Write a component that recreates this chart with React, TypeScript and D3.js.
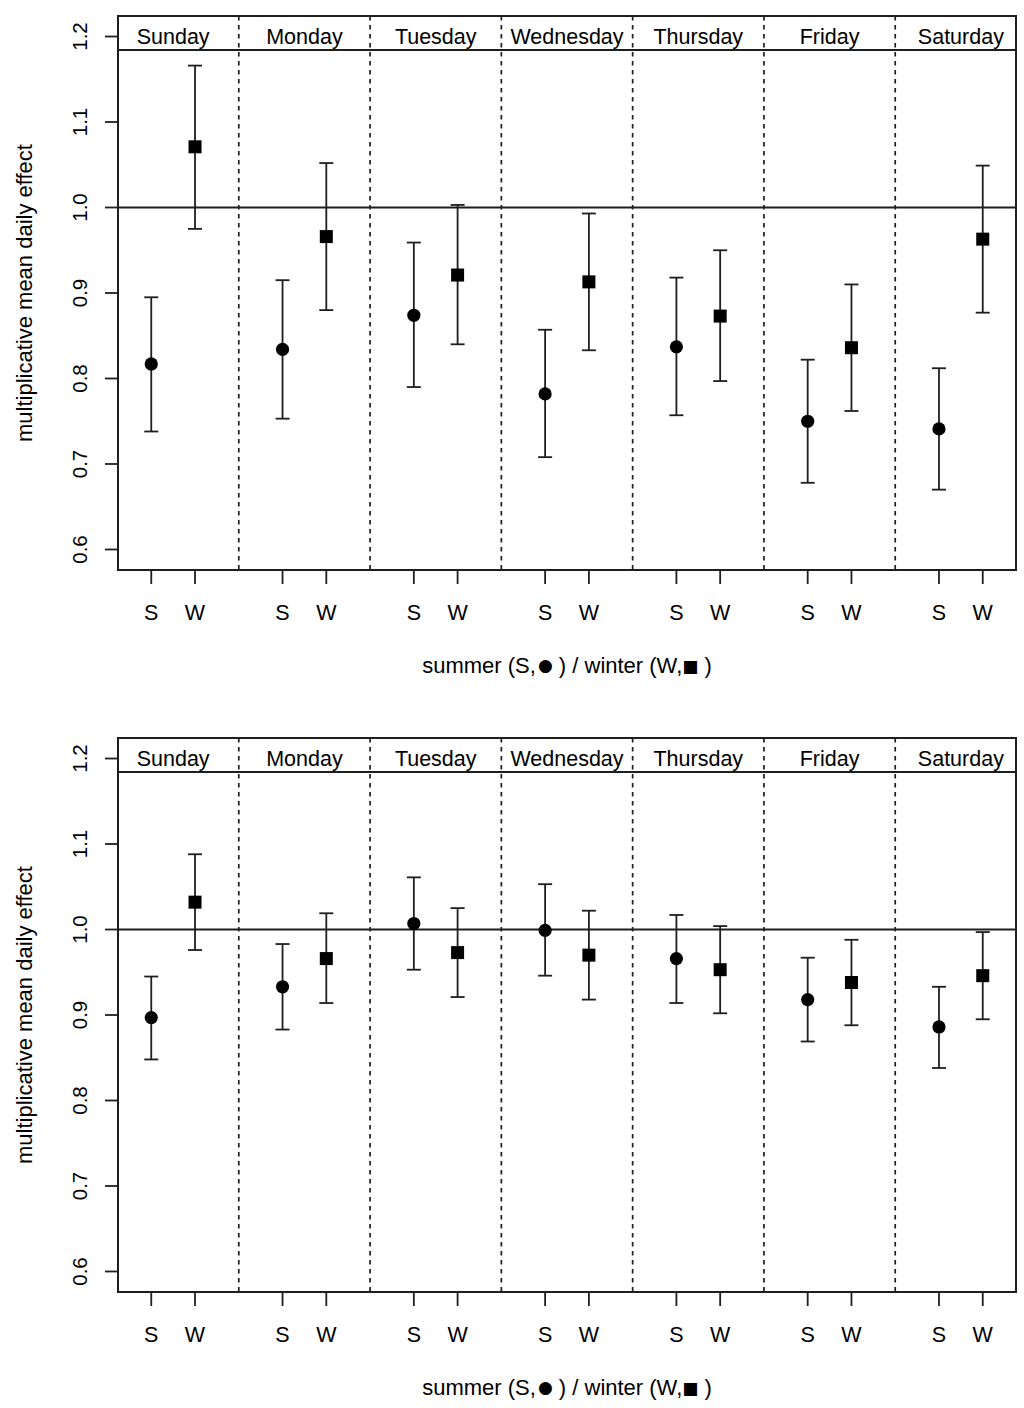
import React from 'react';
import * as d3 from 'd3';

// days and the two seasons shown in each day
const days = ['Sunday', 'Monday', 'Tuesday', 'Wednesday', 'Thursday', 'Friday', 'Saturday'];
const seasonLabels = ['S', 'W'];
const yTicks = [0.6, 0.7, 0.8, 0.9, 1.0, 1.1, 1.2];
const yLabel = 'multiplicative mean daily effect';

// top panel
const summerEstA = [0.817, 0.834, 0.874, 0.782, 0.837, 0.750, 0.741];
const summerLoA = [0.738, 0.753, 0.790, 0.708, 0.757, 0.678, 0.670];
const summerHiA = [0.895, 0.915, 0.959, 0.857, 0.918, 0.822, 0.812];
const winterEstA = [1.071, 0.966, 0.921, 0.913, 0.873, 0.836, 0.963];
const winterLoA = [0.975, 0.880, 0.840, 0.833, 0.797, 0.762, 0.877];
const winterHiA = [1.166, 1.052, 1.003, 0.993, 0.950, 0.910, 1.049];

// bottom panel
const summerEstB = [0.897, 0.933, 1.007, 0.999, 0.966, 0.918, 0.886];
const summerLoB = [0.848, 0.883, 0.953, 0.946, 0.914, 0.869, 0.838];
const summerHiB = [0.945, 0.983, 1.061, 1.053, 1.017, 0.967, 0.933];
const winterEstB = [1.032, 0.966, 0.973, 0.970, 0.953, 0.938, 0.946];
const winterLoB = [0.976, 0.914, 0.921, 0.918, 0.902, 0.888, 0.895];
const winterHiB = [1.088, 1.019, 1.025, 1.022, 1.004, 0.988, 0.997];

const W = 1024;
const H = 1408;
const FONT = '"Liberation Sans", Arial, Helvetica, sans-serif';
const INK = '#1e1e1e';

interface PanelProps {
  top: number;
  sEst: number[]; sLo: number[]; sHi: number[];
  wEst: number[]; wLo: number[]; wHi: number[];
}

const Panel: React.FC<PanelProps> = ({ top, sEst, sLo, sHi, wEst, wLo, wHi }) => {
  const left = 118, right = 1016;
  const bottom = top + 554;
  const strip = 34;

  // R-style 4% padded limits
  const x = d3.scaleLinear().domain([0.24, 20.76]).range([left, right]);
  const y = d3.scaleLinear().domain([0.576, 1.224]).range([bottom, top]);

  const sPos = days.map((_, i) => 3 * i + 1);
  const wPos = days.map((_, i) => 3 * i + 2);
  const seps = d3.range(1, days.length).map(i => 3 * i);
  const cap = 7;

  const errBar = (px: number, lo: number, hi: number, key: string) => (
    <g key={key} stroke={INK} strokeWidth={1.8}>
      <line x1={x(px)} x2={x(px)} y1={y(lo)} y2={y(hi)} />
      <line x1={x(px) - cap} x2={x(px) + cap} y1={y(lo)} y2={y(lo)} />
      <line x1={x(px) - cap} x2={x(px) + cap} y1={y(hi)} y2={y(hi)} />
    </g>
  );

  return (
    <g fontFamily={FONT} fontSize={21.5} fill="#000">
      {/* reference line */}
      <line x1={left} x2={right} y1={y(1)} y2={y(1)} stroke={INK} strokeWidth={1.8} />
      {/* day separators */}
      {seps.map(s => (
        <line key={s} x1={x(s)} x2={x(s)} y1={top} y2={bottom}
          stroke={INK} strokeWidth={1.7} strokeDasharray="4.5,4.5" />
      ))}
      {/* header strip */}
      <line x1={left} x2={right} y1={top + strip} y2={top + strip} stroke={INK} strokeWidth={1.8} />
      {days.map((d, i) => (
        <text key={d} x={x(3 * i + 1.5)} y={top + 27.5} textAnchor="middle">{d}</text>
      ))}
      {/* error bars */}
      {days.map((_, i) => errBar(sPos[i], sLo[i], sHi[i], 's' + i))}
      {days.map((_, i) => errBar(wPos[i], wLo[i], wHi[i], 'w' + i))}
      {/* markers */}
      {days.map((_, i) => (
        <circle key={'sc' + i} cx={x(sPos[i])} cy={y(sEst[i])} r={6.6} fill="#000" />
      ))}
      {days.map((_, i) => (
        <rect key={'wr' + i} x={x(wPos[i]) - 6.5} y={y(wEst[i]) - 6.5} width={13} height={13} fill="#000" />
      ))}
      {/* box */}
      <rect x={left} y={top} width={right - left} height={bottom - top}
        fill="none" stroke={INK} strokeWidth={2} />
      {/* y axis */}
      {yTicks.map(t => (
        <g key={t}>
          <line x1={left - 13} x2={left} y1={y(t)} y2={y(t)} stroke={INK} strokeWidth={1.8} />
          <text transform={`translate(87,${y(t)}) rotate(-90)`} textAnchor="middle" fontSize={20.5}>{t.toFixed(1)}</text>
        </g>
      ))}
      <text transform={`translate(32,${(top + bottom) / 2}) rotate(-90)`} textAnchor="middle" fontSize={22}>{yLabel}</text>
      {/* x axis */}
      {days.map((_, i) => seasonLabels.map((lab, j) => {
        const px = j === 0 ? sPos[i] : wPos[i];
        return (
          <g key={lab + i}>
            <line x1={x(px)} x2={x(px)} y1={bottom} y2={bottom + 14} stroke={INK} strokeWidth={1.8} />
            <text x={x(px)} y={bottom + 49.5} textAnchor="middle">{lab}</text>
          </g>
        );
      }))}
      <text x={(left + right) / 2} y={bottom + 103} textAnchor="middle" fontSize={22}>
        summer (S,
        <tspan fontFamily="DejaVu Sans" fontSize={17} dx={2} dy={-2}>{'\u25CF'}</tspan>
        <tspan dy={2}> ) / winter (W,</tspan>
        <tspan fontFamily="DejaVu Sans" fontSize={17} dy={-1.5}>{'\u25A0'}</tspan>
        <tspan dy={1.5}> )</tspan>
      </text>
    </g>
  );
};

export default function App() {
  return (
    <div style={{ position: 'absolute', left: 0, top: 0 }}>
      <svg width={W} height={H} style={{ display: 'block', background: '#fff' }}>
        <Panel top={16} sEst={summerEstA} sLo={summerLoA} sHi={summerHiA}
          wEst={winterEstA} wLo={winterLoA} wHi={winterHiA} />
        <Panel top={738} sEst={summerEstB} sLo={summerLoB} sHi={summerHiB}
          wEst={winterEstB} wLo={winterLoB} wHi={winterHiB} />
      </svg>
    </div>
  );
}
